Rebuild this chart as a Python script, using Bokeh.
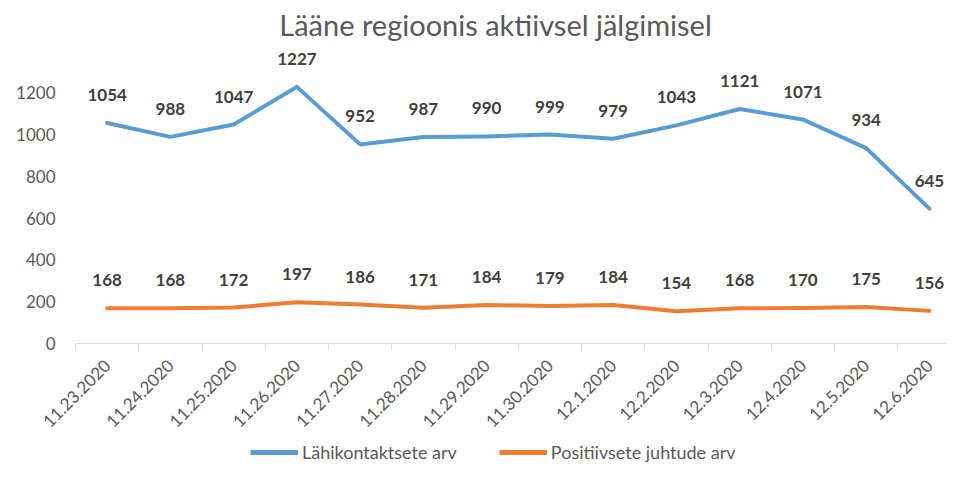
import math
from bokeh.plotting import figure
from bokeh.layouts import column
from bokeh.models import Range1d, FixedTicker, Legend, LegendItem, Label
from bokeh.core.properties import value
from bokeh.embed import file_html
from bokeh.resources import INLINE

# ---- data ----
dates = ["11.23.2020", "11.24.2020", "11.25.2020", "11.26.2020", "11.27.2020",
         "11.28.2020", "11.29.2020", "11.30.2020", "12.1.2020", "12.2.2020",
         "12.3.2020", "12.4.2020", "12.5.2020", "12.6.2020"]
contacts = [1054, 988, 1047, 1227, 952, 987, 990, 999, 979, 1043, 1121, 1071, 934, 645]
positives = [168, 168, 172, 197, 186, 171, 184, 179, 184, 154, 168, 170, 175, 156]
series_names = ["Lähikontaktsete arv", "Positiivsete juhtude arv"]
y_ticks = [0, 200, 400, 600, 800, 1000, 1200]
title_text = "Lääne regioonis aktiivsel jälgimisel"

BLUE = "#5B9BD5"
ORANGE = "#ED7D31"
GRAY = "#595959"
FONT = "Lato"

idx = list(range(len(dates)))

p = figure(width=946, height=438, output_backend="svg", toolbar_location=None,
           x_range=Range1d(-0.5, 13.27), y_range=Range1d(0, 1640),
           min_border_left=75, min_border_right=0, min_border_top=0,
           min_border_bottom=95, background_fill_color="white",
           border_fill_color="white")
p.outline_line_color = None
p.xgrid.visible = False
p.ygrid.visible = False

# x axis
p.xaxis.ticker = FixedTicker(ticks=idx, minor_ticks=[i - 0.5 for i in range(len(dates) + 1)])
p.xaxis.major_label_overrides = {i: d for i, d in enumerate(dates)}
p.xaxis.major_tick_line_color = None
p.xaxis.major_tick_out = 0
p.xaxis.major_tick_in = 0
p.xaxis.minor_tick_line_color = "#D9D9D9"
p.xaxis.minor_tick_out = 6
p.xaxis.minor_tick_in = 0
p.xaxis.axis_line_color = "#D9D9D9"
p.xaxis.major_label_orientation = math.pi / 4
p.xaxis.major_label_standoff = 13
p.xaxis.major_label_text_font = FONT
p.xaxis.major_label_text_font_size = "17px"
p.xaxis.major_label_text_color = GRAY

# y axis
p.yaxis.ticker = FixedTicker(ticks=y_ticks)
p.yaxis.axis_line_color = None
p.yaxis.major_tick_line_color = None
p.yaxis.minor_tick_line_color = None
p.yaxis.major_tick_out = 0
p.yaxis.major_label_standoff = 20
p.yaxis.major_label_text_font = FONT
p.yaxis.major_label_text_font_size = "17px"
p.yaxis.major_label_text_color = GRAY

p.line(idx, contacts, line_color=BLUE, line_width=4, line_join="round", line_cap="round")
p.line(idx, positives, line_color=ORANGE, line_width=4, line_join="round", line_cap="round")

for vals in (contacts, positives):
    p.text(x=idx, y=vals, text=[str(v) for v in vals], text_align="center",
           text_baseline="middle", y_offset=-28, text_font=value(FONT),
           text_font_style="bold", text_font_size="17px", text_color="#404040")

title = Label(x=420, y=319, x_units="screen", y_units="screen", text=title_text,
              text_align="center", text_baseline="alphabetic", text_font=FONT,
              text_font_size="29px", text_color=GRAY)
p.add_layout(title)

# ---- legend strip (same series, kept out of view; only the legend shows) ----
lg = figure(width=946, height=27, output_backend="svg", toolbar_location=None,
            x_axis_type=None, y_axis_type=None, min_border=0,
            x_range=Range1d(100, 101), y_range=Range1d(0, 1))
lg.outline_line_color = None
lg.xgrid.visible = False
lg.ygrid.visible = False
l1 = lg.line(idx, contacts, line_color=BLUE, line_width=5)
l2 = lg.line(idx, positives, line_color=ORANGE, line_width=5)

legend = Legend(items=[LegendItem(label=value(series_names[0]), renderers=[l1]),
                       LegendItem(label=value(series_names[1]), renderers=[l2])],
                location=(175, 2), orientation="horizontal", glyph_width=48,
                glyph_height=20, label_height=20, label_standoff=4, spacing=42,
                padding=0, margin=0, border_line_color=None, background_fill_alpha=0,
                label_text_font=FONT, label_text_font_size="18px",
                label_text_color=GRAY)
lg.add_layout(legend)

layout = column(p, lg, spacing=0)
open("out.html", "w").write(file_html(layout, INLINE))
